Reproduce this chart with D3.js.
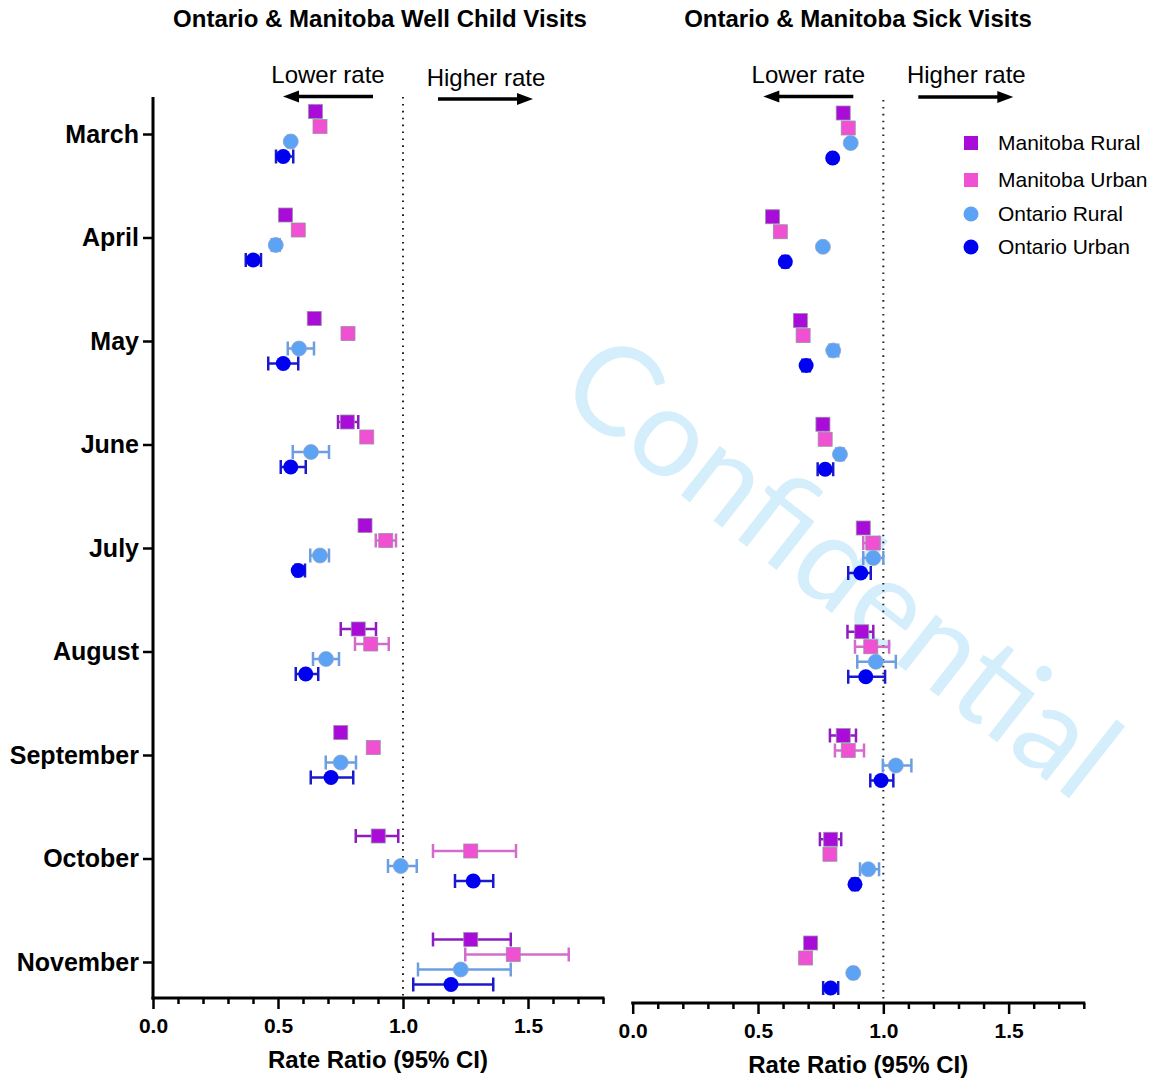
<!DOCTYPE html>
<html>
<head>
<meta charset="utf-8">
<script src="https://cdn.jsdelivr.net/npm/d3@7"></script>
<style>
  body { margin: 0; background: #fff; }
  text { font-family: Arial, "Liberation Sans", sans-serif; }
</style>
</head>
<body>
<div id="chart"></div>
<script>
// months (rows) and series
const months = ["March", "April", "May", "June", "July", "August", "September", "October", "November"];
const seriesNames = ["Manitoba Rural", "Manitoba Urban", "Ontario Rural", "Ontario Urban"];
const xTicks = [0, 0.1, 0.2, 0.3, 0.4, 0.5, 0.6, 0.7, 0.8, 0.9, 1.0, 1.1, 1.2, 1.3, 1.4, 1.5, 1.6, 1.7, 1.8];

// [rate ratio, lower CI, upper CI] per month
const wellMR = [[0.65,0.635,0.665],[0.53,0.515,0.545],[0.645,0.63,0.66],[0.777,0.74,0.821],[0.848,0.833,0.863],[0.821,0.751,0.892],[0.751,0.736,0.766],[0.901,0.811,0.981],[1.271,1.12,1.431]];
const wellMU = [[0.668,0.653,0.683],[0.581,0.566,0.596],[0.78,0.765,0.795],[0.855,0.84,0.87],[0.931,0.891,0.972],[0.871,0.808,0.943],[0.881,0.866,0.896],[1.271,1.12,1.452],[1.441,1.249,1.663]];
const wellOR = [[0.551,0.54,0.562],[0.491,0.475,0.507],[0.584,0.539,0.644],[0.632,0.559,0.704],[0.668,0.629,0.704],[0.692,0.64,0.744],[0.751,0.691,0.812],[0.991,0.94,1.055],[1.231,1.06,1.431]];
const wellOU = [[0.521,0.492,0.561],[0.401,0.371,0.432],[0.521,0.461,0.581],[0.551,0.511,0.611],[0.581,0.57,0.608],[0.611,0.571,0.661],[0.712,0.631,0.801],[1.281,1.208,1.361],[1.192,1.041,1.361]];

const sickMR = [[0.84,0.83,0.85],[0.558,0.548,0.568],[0.669,0.655,0.683],[0.759,0.749,0.769],[0.92,0.91,0.93],[0.914,0.857,0.96],[0.84,0.787,0.891],[0.79,0.747,0.832],[0.71,0.698,0.722]];
const sickMU = [[0.86,0.85,0.87],[0.589,0.579,0.599],[0.68,0.67,0.69],[0.768,0.752,0.784],[0.958,0.92,0.985],[0.95,0.887,1.023],[0.86,0.807,0.923],[0.787,0.777,0.797],[0.69,0.68,0.7]];
const sickOR = [[0.87,0.862,0.878],[0.759,0.751,0.767],[0.80,0.785,0.82],[0.827,0.812,0.842],[0.96,0.92,1.0],[0.97,0.896,1.05],[1.05,0.998,1.112],[0.94,0.907,0.983],[0.88,0.868,0.892]];
const sickOU = [[0.798,0.79,0.806],[0.609,0.597,0.621],[0.692,0.677,0.707],[0.768,0.738,0.80],[0.91,0.86,0.95],[0.93,0.86,1.007],[0.991,0.948,1.04],[0.887,0.875,0.899],[0.79,0.76,0.82]];

const fills = ["#a90cd8", "#f050d2", "#5ca2f5", "#0000f0"];
const barColors = ["#8e1cc0", "#d46ccb", "#6c9ee0", "#1a1acc"];
const shapes = ["square", "square", "circle", "circle"];

const width = 1149, height = 1081;
const svg = d3.select("#chart").append("svg")
    .attr("width", width)
    .attr("height", height);

// watermark behind everything
svg.append("text")
    .attr("transform", "translate(842,566) rotate(38)")
    .attr("text-anchor", "middle")
    .attr("dy", "0.35em")
    .style("font-family", "Lato, 'Open Sans', sans-serif")
    .style("font-weight", 400)
    .style("font-size", "124px")
    .attr("fill", "#d4eefb")
    .text("Confidential");

function drawPanel(cfg) {
    const x = d3.scaleLinear().domain([0, 1.8]).range([cfg.x0, cfg.x1]);
    const y = d3.scalePoint().domain(months).range([cfg.yTop, cfg.yBot]);
    const off = d3.scalePoint().domain(seriesNames).range([-22.5, 22.5]);
    const g = svg.append("g");

    // title
    g.append("text")
        .attr("x", cfg.titleX).attr("y", 27)
        .attr("text-anchor", "middle")
        .style("font-size", "24px").style("font-weight", "bold")
        .text(cfg.title);

    // lower / higher rate arrows
    const lowerX = x(1) - 75, higherX = x(1) + 83;
    g.append("text").attr("x", lowerX).attr("y", 83).attr("text-anchor", "middle")
        .style("font-size", "24px").text("Lower rate");
    g.append("text").attr("x", higherX).attr("y", cfg.higherBase).attr("text-anchor", "middle")
        .style("font-size", "24px").text("Higher rate");
    const arrows = [
        { from: x(1) - 30, to: x(1) - 120, y: 96.5 },
        { from: x(1) + 35, to: x(1) + 130, y: cfg.higherArrowY }
    ];
    arrows.forEach(a => {
        const dir = Math.sign(a.to - a.from);
        g.append("line")
            .attr("x1", a.from).attr("x2", a.to - dir * 12)
            .attr("y1", a.y).attr("y2", a.y)
            .attr("stroke", "#000").attr("stroke-width", 3.5);
        g.append("path")
            .attr("d", `M${a.to},${a.y} L${a.to - dir * 16},${a.y - 6} L${a.to - dir * 16},${a.y + 6} Z`)
            .attr("fill", "#000");
    });

    // reference line at 1
    g.append("line")
        .attr("x1", x(1)).attr("x2", x(1))
        .attr("y1", cfg.refTop).attr("y2", cfg.axisY)
        .attr("stroke", "#222").attr("stroke-width", 2)
        .attr("stroke-dasharray", "1.6,5.3");

    // x axis
    const xAxis = d3.axisBottom(x)
        .tickValues(xTicks)
        .tickSize(6)
        .tickPadding(14)
        .tickFormat(d => (Math.round(d * 10) % 5 === 0) ? d3.format(".1f")(d) : "");
    const xg = g.append("g")
        .attr("transform", `translate(0,${cfg.axisY})`)
        .call(xAxis);
    xg.select(".domain").attr("stroke-width", 3).attr("d", `M${cfg.x0 - 1.5},0H${cfg.x1 + 1.5}`);
    xg.selectAll(".tick line").attr("stroke-width", 2.5)
        .attr("y2", d => (Math.round(d * 10) % 5 === 0) ? 11 : 6);
    xg.selectAll(".tick text")
        .style("font-size", "21px").style("font-weight", "bold")
        .style("font-family", "Arial, 'Liberation Sans', sans-serif").attr("fill", "#000");

    g.append("text")
        .attr("x", (cfg.x0 + cfg.x1) / 2).attr("y", cfg.axisY + 70)
        .attr("text-anchor", "middle")
        .style("font-size", "24px").style("font-weight", "bold")
        .text("Rate Ratio (95% CI)");

    // y axis (left panel only)
    if (cfg.showY) {
        const yg = g.append("g")
            .attr("transform", `translate(${cfg.x0},0)`)
            .call(d3.axisLeft(y).tickSize(10).tickPadding(4));
        yg.select(".domain").attr("stroke-width", 3).attr("d", `M0,${cfg.yAxisTop}V${cfg.axisY + 1.5}`);
        yg.selectAll(".tick line").attr("stroke-width", 2.5);
        yg.selectAll(".tick text")
            .style("font-size", "25px").style("font-weight", "bold")
            .style("font-family", "Arial, 'Liberation Sans', sans-serif").attr("fill", "#000");
    }

    // series: error bars then markers
    cfg.data.forEach((series, si) => {
        const name = seriesNames[si];
        const rows = series.map((d, i) => ({ month: months[i], v: d[0], lo: d[1], hi: d[2] }));
        const sg = g.append("g");
        const cy = d => y(d.month) + off(name);

        sg.selectAll(".ci").data(rows).enter().append("line")
            .attr("x1", d => x(d.lo)).attr("x2", d => x(d.hi))
            .attr("y1", cy).attr("y2", cy)
            .attr("stroke", barColors[si]).attr("stroke-width", 2.5);
        ["lo", "hi"].forEach(k => {
            sg.selectAll(".cap-" + k).data(rows).enter().append("line")
                .attr("x1", d => x(d[k])).attr("x2", d => x(d[k]))
                .attr("y1", d => cy(d) - 7).attr("y2", d => cy(d) + 7)
                .attr("stroke", barColors[si]).attr("stroke-width", 2.5);
        });

        if (shapes[si] === "square") {
            sg.selectAll(".m").data(rows).enter().append("rect")
                .attr("x", d => x(d.v) - 7).attr("y", d => cy(d) - 7)
                .attr("width", 14).attr("height", 14)
                .attr("fill", fills[si])
                .attr("stroke", "#9a8fa8").attr("stroke-width", 0.8);
        } else {
            sg.selectAll(".m").data(rows).enter().append("circle")
                .attr("cx", d => x(d.v)).attr("cy", cy)
                .attr("r", 7.5)
                .attr("fill", fills[si])
                .attr("stroke", si === 2 ? "#8fa6c8" : "none").attr("stroke-width", 0.8);
        }
    });
}

drawPanel({
    title: "Ontario & Manitoba Well Child Visits", titleX: 380,
    x0: 153, x1: 603, yTop: 134, yBot: 962, axisY: 998, yAxisTop: 97, refTop: 97,
    higherBase: 86, higherArrowY: 99, showY: true,
    data: [wellMR, wellMU, wellOR, wellOU]
});
drawPanel({
    title: "Ontario & Manitoba Sick Visits", titleX: 858,
    x0: 632.7, x1: 1083.8, yTop: 135.5, yBot: 965.5, axisY: 1003, yAxisTop: 100, refTop: 100,
    higherBase: 83, higherArrowY: 97, showY: false,
    data: [sickMR, sickMU, sickOR, sickOU]
});

// legend
const legendY = [143, 180, 214, 247];
const lg = svg.append("g");
seriesNames.forEach((name, i) => {
    if (shapes[i] === "square") {
        lg.append("rect").attr("x", 964).attr("y", legendY[i] - 7)
            .attr("width", 14).attr("height", 14).attr("fill", fills[i]);
    } else {
        lg.append("circle").attr("cx", 971).attr("cy", legendY[i]).attr("r", 7.5).attr("fill", fills[i]);
    }
    lg.append("text").attr("x", 998).attr("y", legendY[i]).attr("dy", "0.35em")
        .style("font-size", "21px").text(name);
});
</script>
</body>
</html>
